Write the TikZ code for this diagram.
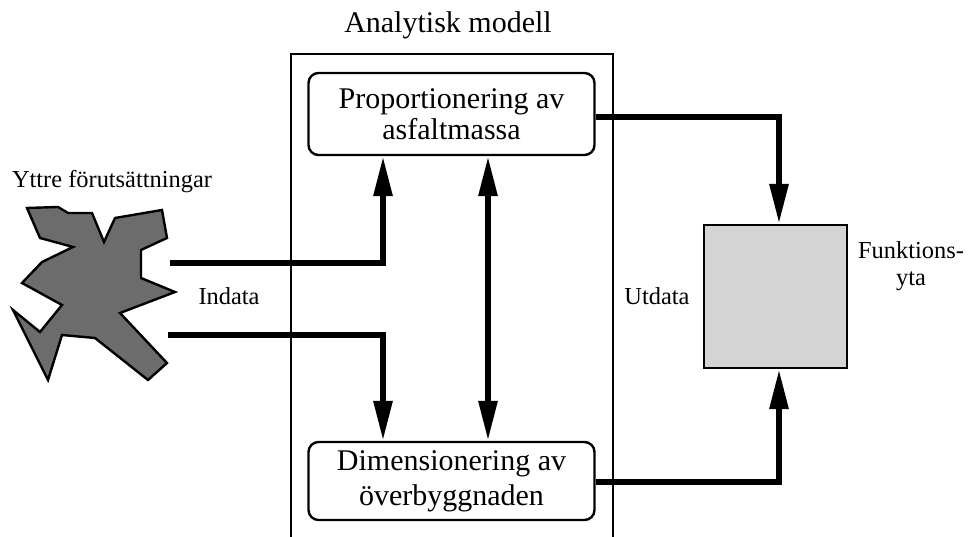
\documentclass[tikz,border=0pt]{standalone}
\usepackage{fontspec}
\setmainfont{Liberation Serif}
\usetikzlibrary{arrows.meta}
\tikzset{
  bigfont/.style={font=\fontsize{30}{32}\selectfont},
  smallfont/.style={font=\fontsize{24.4}{27}\selectfont},
  procbox/.style={draw, line width=2.4pt, rounded corners=10pt, minimum width=286pt, align=center, bigfont, inner sep=0pt},
  thickarrow/.style={line width=6pt, -{Triangle[length=40pt,width=18pt]}},
  dblarrow/.style={line width=6pt, {Triangle[length=40pt,width=18pt]}-{Triangle[length=40pt,width=18pt]}},
}
\begin{document}
\begin{tikzpicture}[x=1pt,y=-1pt]
\useasboundingbox (0,0) rectangle (969,537);
\clip (0,0) rectangle (969,537);
% outer model frame
\node[draw, line width=2.4pt, minimum width=322pt, minimum height=520pt, anchor=north west, inner sep=0pt] (model) at (290,53) {};
\node[bigfont, anchor=base] (modeltitle) at (448,33) {Analytisk modell};
% process boxes
\node[procbox, minimum height=82pt] (prop) at (451.5,114) {Proportionering av\\[-1pt]asfaltmassa};
\node[procbox, minimum height=78pt] (dim) at (451.5,481) {Dimensionering av\\[3pt]överbyggnaden};
% external conditions shape
\draw[line width=2.4pt, fill={rgb,255:red,108;green,108;blue,108}, line join=miter]
  (27,208) -- (58,207) -- (68,213) -- (92,213) -- (104,242) -- (115,218) -- (162,210)
  -- (167,238) -- (141,250) -- (141,278) -- (175,292) -- (120,313) -- (167,363)
  -- (148,380) -- (95,338) -- (62,335) -- (48,380) -- (13,310) -- (40,332)
  -- (62,305) -- (22,283) -- (42,262) -- (73,247) -- (40,238) -- cycle;
\coordinate (in1) at (170,263);
\coordinate (in2) at (168,335);
\node[smallfont, anchor=base] (yttre) at (112,188) {Yttre förutsättningar};
\node[smallfont, anchor=base] (indata) at (229,305) {Indata};
% function surface
\node[draw, line width=2.4pt, fill={rgb,255:red,212;green,212;blue,212}, minimum width=143pt, minimum height=143pt, inner sep=0pt] (fy) at (775.5,296.5) {};
\node[smallfont, anchor=base] (utdata) at (657,305) {Utdata};
\node[smallfont, anchor=base, align=center] (funk) at (911,286) {Funktions-\\yta};
% connectors
\coordinate (xa) at (383,0);
\coordinate (xb) at (488,0);
\coordinate (xc) at (779,0);
\draw[thickarrow] (in1) -| (xa |- prop.south);
\draw[thickarrow] (in2) -| (xa |- dim.north);
\draw[dblarrow] (xb |- prop.south) -- (xb |- dim.north);
\draw[thickarrow] ([yshift=-3pt]prop.east) -| (xc |- fy.north);
\draw[thickarrow] ([yshift=-1pt]dim.east) -| (xc |- fy.south);
\end{tikzpicture}
\end{document}
